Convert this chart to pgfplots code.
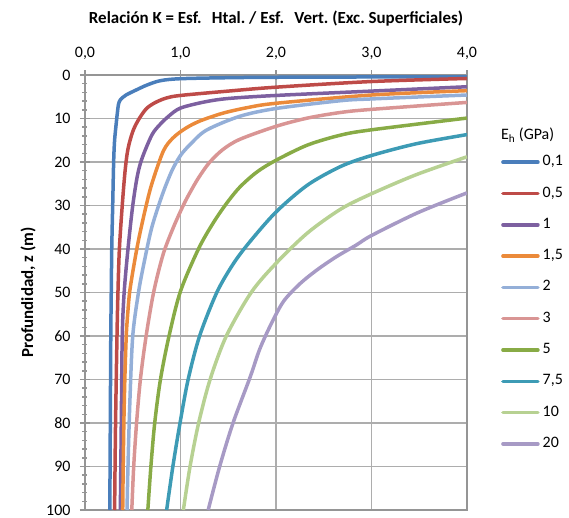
\documentclass[border=0pt]{standalone}
\usepackage{fontspec}
\setmainfont{Carlito}
\usepackage{pgfplots}
\pgfplotsset{compat=1.18}
\definecolor{s1}{HTML}{4A7EBB}
\definecolor{s2}{HTML}{BE4B48}
\definecolor{s3}{HTML}{7D60A0}
\definecolor{s4}{HTML}{EB8A3A}
\definecolor{s5}{HTML}{94AFD8}
\definecolor{s6}{HTML}{D99594}
\definecolor{s7}{HTML}{88AB46}
\definecolor{s8}{HTML}{3D9BB5}
\definecolor{s9}{HTML}{B7D192}
\definecolor{s10}{HTML}{A79AC5}
\definecolor{gridgray}{HTML}{ADADAD}
\definecolor{axgray}{HTML}{959595}
\begin{document}
\begin{tikzpicture}
\path[use as bounding box] (-85bp,-8bp) rectangle (484bp,510bp);
\begin{axis}[
  name=ax, at={(0,0)}, anchor=south west,
  width=382bp, height=435bp, scale only axis,
  xmin=0, xmax=4, ymin=0, ymax=100, y dir=reverse,
  xtick={0,1,2,3,4}, ytick={0,10,...,100},
  minor y tick num=4,
  xtick pos=right, xticklabel pos=right,
  ytick pos=left,
  x tick label style={/pgf/number format/fixed, /pgf/number format/fixed zerofill, /pgf/number format/precision=1, /pgf/number format/use comma},
  /pgf/number format/assume math mode=true,
  tick label style={font=\fontsize{16}{18}\selectfont},
  xticklabel style={yshift=7bp},
  yticklabel style={xshift=-6bp},
  grid=major, major grid style={color=gridgray, line width=1.5bp},
  axis line style={color=axgray, line width=1.5bp},
  tick style={color=axgray, line width=1.5bp},
  tick align=center, major tick length=10bp, minor tick length=5bp,
  clip=true,
  legend style={at={(1,1)}, anchor=north west, xshift=34bp, yshift=-80.5bp,
    draw=none, fill=none, inner sep=0pt, row sep=18.3bp,
    font=\fontsize{16}{18}\selectfont,
    nodes={inner sep=0pt, text height=10bp, text depth=3bp},
    /tikz/every odd column/.append style={column sep=3bp}},
  legend cell align=left,
  legend image code/.code={\draw[#1, line width=3.5bp, line cap=round] (0bp,0bp) -- (35bp,0bp);},
  every axis plot/.append style={line width=3.5bp, line join=round},
]
\addplot[s1, smooth, tension=0.5] coordinates {(4.0,0.4) (3.0,0.45) (2.0,0.52) (1.5,0.62) (1.0,0.85) (0.79,1.3) (0.65,2.3) (0.54,3.4) (0.43,4.6) (0.37,5.7) (0.35,6.8) (0.34,8.5) (0.33,10.5) (0.31,15) (0.30,20) (0.29,30) (0.28,40) (0.275,50) (0.27,60) (0.265,80) (0.26,100)};
\addlegendentry{0,1}
\addplot[s2, smooth, tension=0.5] coordinates {(4.0,0.8) (3.0,1.5) (2.0,2.8) (1.5,3.7) (1.0,4.7) (0.85,5.3) (0.73,6.4) (0.64,7.8) (0.56,10.3) (0.50,13) (0.45,17) (0.42,22) (0.39,30) (0.36,40) (0.345,50) (0.335,60) (0.32,80) (0.31,100)};
\addlegendentry{0,5}
\addplot[s3, smooth, tension=0.5] coordinates {(4.0,2.7) (3.0,3.7) (2.0,4.7) (1.5,5.4) (1.25,6.2) (1.0,7.6) (0.88,9.4) (0.78,11.5) (0.70,13.8) (0.60,19) (0.55,23) (0.50,30) (0.45,40) (0.41,50) (0.39,60) (0.38,80) (0.37,100)};
\addlegendentry{1}
\addplot[s4, smooth, tension=0.5] coordinates {(4.0,3.6) (3.0,4.6) (2.0,6.5) (1.7,7.5) (1.44,8.8) (1.2,10.6) (1.05,12.3) (0.92,14.5) (0.82,17.5) (0.70,25) (0.63,31) (0.56,38) (0.51,44) (0.467,50) (0.447,55) (0.432,60) (0.417,70) (0.407,80) (0.40,90) (0.395,100)};
\addlegendentry{1,5}
\addplot[s5, smooth, tension=0.5] coordinates {(4.0,4.6) (3.0,5.5) (2.68,5.9) (2.0,7.7) (1.62,9.5) (1.27,12.7) (1.10,16) (1.0,18.5) (0.91,22) (0.81,27.5) (0.70,35) (0.62,43) (0.56,50) (0.50,60) (0.47,75) (0.45,90) (0.44,100)};
\addlegendentry{2}
\addplot[s6, smooth, tension=0.5] coordinates {(4.0,6.3) (3.0,7.9) (2.68,8.6) (2.33,9.9) (2.0,11.8) (1.62,14.8) (1.44,17.2) (1.30,20.2) (1.19,23.6) (1.11,26.6) (1.035,29.7) (0.93,34.8) (0.82,41.1) (0.72,49.8) (0.64,60) (0.58,70) (0.54,80) (0.51,90) (0.49,100)};
\addlegendentry{3}
\addplot[s7, smooth, tension=0.5] coordinates {(4.0,9.9) (3.0,12.6) (2.68,13.8) (2.33,16.1) (2.0,19.6) (1.80,22.3) (1.62,25.8) (1.476,29.7) (1.34,34.1) (1.19,39.9) (1.0,49.7) (0.88,60) (0.79,70) (0.73,80) (0.69,90) (0.658,100)};
\addlegendentry{5}
\addplot[s8, smooth, tension=0.5] coordinates {(4.0,13.7) (3.47,15.8) (3.0,18.5) (2.68,21) (2.33,25.3) (2.0,31.5) (1.72,38.5) (1.55,43.5) (1.38,50) (1.20,60) (1.08,70) (0.995,80) (0.92,90) (0.855,100)};
\addlegendentry{7,5}
\addplot[s9, smooth, tension=0.5] coordinates {(4.0,18.8) (3.47,22.9) (3.0,27.3) (2.68,30.8) (2.33,36.3) (2.0,43.3) (1.74,50) (1.48,60) (1.31,70) (1.19,80) (1.10,90) (1.03,100)};
\addlegendentry{10}
\addplot[s10, smooth, tension=0.5] coordinates {(4.0,27.1) (3.48,31.7) (3.0,36.9) (2.84,39.1) (2.63,41.8) (2.43,44.8) (2.25,48.0) (2.08,52.0) (1.95,57.2) (1.83,63.0) (1.73,69.4) (1.55,80) (1.41,90) (1.29,100)};
\addlegendentry{20}
\end{axis}
\node[font=\bfseries\fontsize{17}{19}\selectfont] at ([yshift=56bp]ax.north) {Relación K = Esf.\hspace{0.3em} Htal.\ / Esf.\hspace{0.3em} Vert.\ (Exc.\ Superficiales)};
\node[font=\bfseries\fontsize{17}{19}\selectfont, rotate=90] at ([xshift=-57bp]ax.west) {Profundidad, z (m)};
\node[font=\fontsize{16}{18}\selectfont, anchor=west, inner sep=0pt] at ([xshift=34bp,yshift=-60bp]ax.north east) {E\textsubscript{h} (GPa)};
\end{tikzpicture}
\end{document}
